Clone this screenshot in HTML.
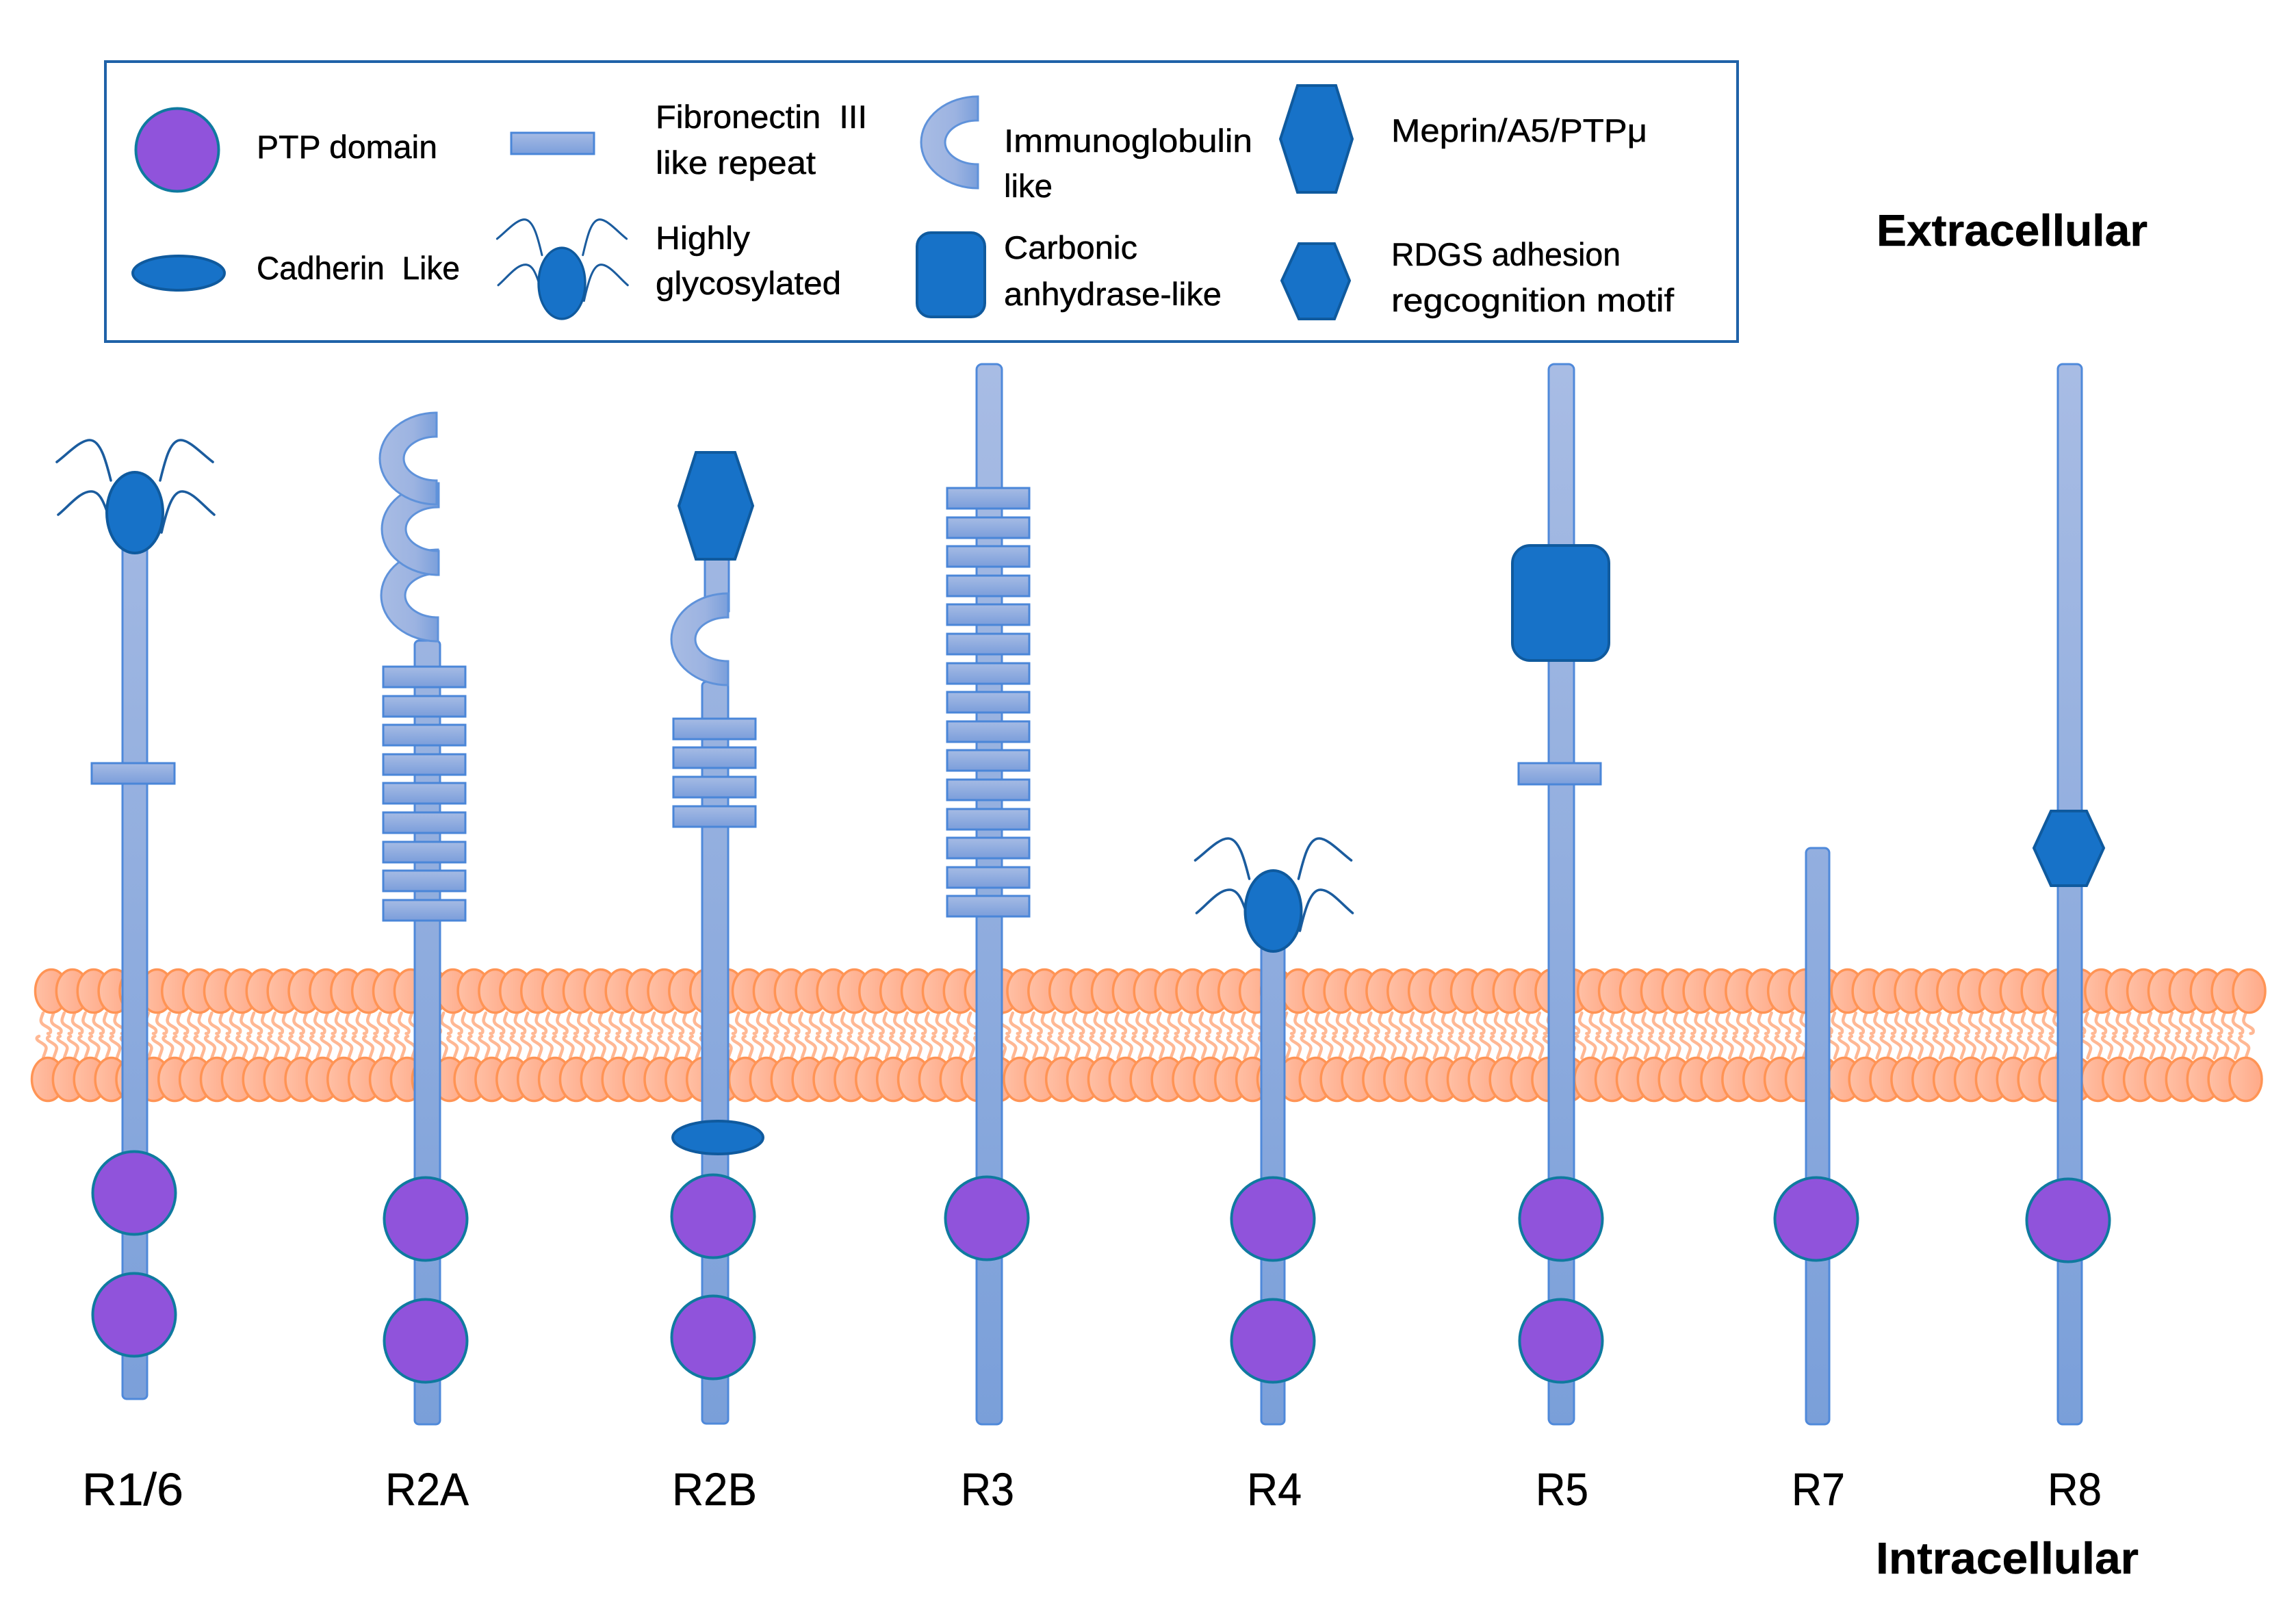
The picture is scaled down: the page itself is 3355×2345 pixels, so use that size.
<!DOCTYPE html>
<html>
<head>
<meta charset="utf-8">
<title>Receptor PTP diagram</title>
<style>
html,body{margin:0;padding:0;background:#fff;}
svg{display:block;}
text{font-family:"Liberation Sans",sans-serif;fill:#000;stroke:#000;stroke-width:.5px;}
.l{font-size:47px;}
.r{font-size:67px;}
.b{font-size:65px;font-weight:bold;}
.st{fill:url(#stem);stroke:#4f89da;stroke-width:3;}
.fn{fill:url(#fib);stroke:#4a86d8;stroke-width:3;}
.ig{fill:url(#igg);stroke:#5f92da;stroke-width:3;}
.bl{fill:#1772c8;stroke:#0f5a9e;stroke-width:4;}
.pt{fill:#9053db;stroke:#0f7a9f;stroke-width:4;}
.ha{fill:none;stroke:#1b5c9e;stroke-width:3.6;stroke-linecap:round;}
.he{fill:url(#head);stroke:#ff9455;stroke-width:3.5;}
.ta{fill:none;stroke:#ffb894;stroke-width:4.5;stroke-linecap:round;}
</style>
</head>
<body>
<svg xmlns="http://www.w3.org/2000/svg" width="3355" height="2345" viewBox="0 0 3355 2345">
<defs>
<linearGradient id="stem" gradientUnits="userSpaceOnUse" x1="0" y1="530" x2="0" y2="2085"><stop offset="0" stop-color="#a8bce4"/><stop offset="1" stop-color="#7a9fd9"/></linearGradient>
<linearGradient id="fib" x1="0" y1="0" x2="0" y2="1"><stop offset="0" stop-color="#a6bbe4"/><stop offset="1" stop-color="#7b9edb"/></linearGradient>
<linearGradient id="igg" x1="0" y1="0" x2="1" y2="0"><stop offset="0" stop-color="#a8bce4"/><stop offset="0.6" stop-color="#9cb3e1"/><stop offset="1" stop-color="#7a9fdb"/></linearGradient>
<linearGradient id="head" x1="0" y1="0" x2="1" y2="0"><stop offset="0" stop-color="#ffc0a5"/><stop offset="1" stop-color="#ffa987"/></linearGradient>

<ellipse id="h1" class="he" cx="0" cy="0" rx="23.5" ry="31.5"/>
<g id="h5"><use href="#h1"/><use href="#h1" x="30.88"/><use href="#h1" x="61.76"/><use href="#h1" x="92.64"/><use href="#h1" x="123.52"/></g>
<g id="h25"><use href="#h5"/><use href="#h5" x="154.4"/><use href="#h5" x="308.8"/><use href="#h5" x="463.2"/><use href="#h5" x="617.6"/></g>
<g id="h105"><use href="#h25"/><use href="#h25" x="772"/><use href="#h25" x="1544"/><use href="#h25" x="2316"/><use href="#h5" x="3088"/></g>

<path id="tu" class="ta" d="M0 0C-3 8-5 12-1 16C3 20 12 22 11 27C11 29 9 30 7 30"/>
<path id="tl" class="ta" d="M2 0C-3 2-2 5 3 8C10 12 14 15 12 20C11 24 9 28 8 32"/>
<g id="tu5"><use href="#tu"/><use href="#tu" x="15.4"/><use href="#tu" x="30.8"/><use href="#tu" x="46.2"/><use href="#tu" x="61.6"/></g>
<g id="tu25"><use href="#tu5"/><use href="#tu5" x="77"/><use href="#tu5" x="154"/><use href="#tu5" x="231"/><use href="#tu5" x="308"/></g>
<g id="tl5"><use href="#tl"/><use href="#tl" x="15.4"/><use href="#tl" x="30.8"/><use href="#tl" x="46.2"/><use href="#tl" x="61.6"/></g>
<g id="tl25"><use href="#tl5"/><use href="#tl5" x="77"/><use href="#tl5" x="154"/><use href="#tl5" x="231"/><use href="#tl5" x="308"/></g>

<g id="gly">
<path class="ha" d="M-114 -74C-98 -86-80 -106-66 -106C-50 -106-42 -75-35 -47"/>
<path class="ha" d="M-112 3C-96 -10-80 -31-64 -31C-52 -31-46 -18-38 6"/>
<path class="ha" d="M114 -74C98 -86 80 -106 67 -106C51 -106 44 -75 37 -47"/>
<path class="ha" d="M116 3C100 -10 84 -31 69 -31C55 -31 47 -5 39 29"/>
<ellipse class="bl" cx="0" cy="0" rx="41" ry="59"/>
</g>

<path id="ig" class="ig" d="M0 -67A83 67 0 0 0 0 67L0 32A48 32 0 0 1 0 -32Z"/>
<rect id="frA" class="fn" x="0" y="0" width="120" height="30"/>
<ellipse id="ptp" class="pt" cx="0" cy="0" rx="60.5" ry="60.5"/>
</defs>

<rect width="3355" height="2345" fill="#fff"/>

<!-- Legend -->
<rect x="154" y="90" width="2385" height="409" fill="#fff" stroke="#1f62a8" stroke-width="4"/>
<use href="#ptp" x="259" y="219"/>
<ellipse class="bl" cx="261" cy="399" rx="67" ry="25"/>
<rect class="fn" x="747" y="194" width="121" height="31"/>
<use href="#gly" transform="translate(821 414) scale(.83 .88)"/>
<use href="#ig" transform="translate(1429 208)"/>
<rect class="bl" x="1340" y="340" width="99" height="123" rx="20"/>
<polygon class="bl" points="1896,125 1952,125 1976,203 1952,281 1896,281 1871,203"/>
<polygon class="bl" points="1898,356 1950,356 1972,410 1950,466 1898,466 1873,410"/>

<text class="l" x="375" y="231" textLength="264" lengthAdjust="spacingAndGlyphs">PTP domain</text>
<text class="l" x="375" y="408" textLength="297" lengthAdjust="spacingAndGlyphs" xml:space="preserve">Cadherin  Like</text>
<text class="l" x="958" y="187" textLength="309" lengthAdjust="spacingAndGlyphs" xml:space="preserve">Fibronectin  III</text>
<text class="l" x="958" y="254" textLength="234" lengthAdjust="spacingAndGlyphs">like repeat</text>
<text class="l" x="958" y="364" textLength="138" lengthAdjust="spacingAndGlyphs">Highly</text>
<text class="l" x="958" y="430" textLength="271" lengthAdjust="spacingAndGlyphs">glycosylated</text>
<text class="l" x="1467" y="222" textLength="363" lengthAdjust="spacingAndGlyphs">Immunoglobulin</text>
<text class="l" x="1467" y="288" textLength="71" lengthAdjust="spacingAndGlyphs">like</text>
<text class="l" x="1467" y="378" textLength="195" lengthAdjust="spacingAndGlyphs">Carbonic</text>
<text class="l" x="1467" y="446" textLength="318" lengthAdjust="spacingAndGlyphs">anhydrase-like</text>
<text class="l" x="2033" y="207" textLength="374" lengthAdjust="spacingAndGlyphs">Meprin/A5/PTPμ</text>
<text class="l" x="2033" y="388" textLength="335" lengthAdjust="spacingAndGlyphs">RDGS adhesion</text>
<text class="l" x="2033" y="455" textLength="413" lengthAdjust="spacingAndGlyphs">regcognition motif</text>

<!-- Membrane -->
<g transform="translate(63 1480)">
<use href="#tu25"/><use href="#tu25" x="385"/><use href="#tu25" x="770"/><use href="#tu25" x="1155"/><use href="#tu25" x="1540"/><use href="#tu25" x="1925"/><use href="#tu25" x="2310"/><use href="#tu25" x="2695"/><use href="#tu5" x="3080"/><use href="#tu5" x="3157"/>
</g>
<g transform="translate(55 1514)">
<use href="#tl25"/><use href="#tl25" x="385"/><use href="#tl25" x="770"/><use href="#tl25" x="1155"/><use href="#tl25" x="1540"/><use href="#tl25" x="1925"/><use href="#tl25" x="2310"/><use href="#tl25" x="2695"/><use href="#tl5" x="3080"/><use href="#tl5" x="3157"/>
</g>
<use href="#h105" x="75" y="1448"/>
<use href="#h105" x="70" y="1577"/>

<!-- R1/6 -->
<rect class="st" x="179" y="790" width="36" height="1254" rx="6"/>
<rect class="fn" x="134" y="1115" width="121" height="30"/>
<use href="#gly" x="197" y="749"/>
<use href="#ptp" x="196" y="1743"/>
<use href="#ptp" x="196" y="1921"/>

<!-- R2A -->
<rect class="st" x="606" y="936" width="37" height="1145" rx="6"/>
<use href="#ig" transform="translate(640 870)"/>
<use href="#ig" transform="translate(641 773)"/>
<use href="#ig" transform="translate(638 670)"/>
<use href="#frA" x="560" y="974"/>
<use href="#frA" x="560" y="1017"/>
<use href="#frA" x="560" y="1059"/>
<use href="#frA" x="560" y="1102"/>
<use href="#frA" x="560" y="1144"/>
<use href="#frA" x="560" y="1187"/>
<use href="#frA" x="560" y="1230"/>
<use href="#frA" x="560" y="1272"/>
<use href="#frA" x="560" y="1315"/>
<use href="#ptp" x="622" y="1781"/>
<use href="#ptp" x="622" y="1959"/>

<!-- R2B -->
<rect class="st" x="1030" y="800" width="35" height="93"/>
<rect class="st" x="1026" y="996" width="38" height="1084" rx="6"/>
<use href="#ig" transform="translate(1064 934)"/>
<polygon class="bl" points="1017,661 1074,661 1100,739 1074,817 1017,817 992,739"/>
<use href="#frA" x="984" y="1050"/>
<use href="#frA" x="984" y="1092"/>
<use href="#frA" x="984" y="1135"/>
<use href="#frA" x="984" y="1178"/>
<ellipse class="bl" cx="1049" cy="1662" rx="66" ry="24"/>
<use href="#ptp" x="1042" y="1777"/>
<use href="#ptp" x="1042" y="1954"/>

<!-- R3 -->
<rect class="st" x="1427" y="532" width="37" height="1549" rx="8"/>
<use href="#frA" x="1384" y="713"/>
<use href="#frA" x="1384" y="756"/>
<use href="#frA" x="1384" y="798"/>
<use href="#frA" x="1384" y="841"/>
<use href="#frA" x="1384" y="883"/>
<use href="#frA" x="1384" y="926"/>
<use href="#frA" x="1384" y="969"/>
<use href="#frA" x="1384" y="1011"/>
<use href="#frA" x="1384" y="1054"/>
<use href="#frA" x="1384" y="1096"/>
<use href="#frA" x="1384" y="1139"/>
<use href="#frA" x="1384" y="1182"/>
<use href="#frA" x="1384" y="1224"/>
<use href="#frA" x="1384" y="1267"/>
<use href="#frA" x="1384" y="1309"/>
<use href="#ptp" x="1442" y="1780"/>

<!-- R4 -->
<rect class="st" x="1843" y="1370" width="34" height="711" rx="6"/>
<use href="#gly" x="1860.5" y="1331"/>
<use href="#ptp" x="1860" y="1781"/>
<use href="#ptp" x="1860" y="1959"/>

<!-- R5 -->
<rect class="st" x="2263" y="532" width="37" height="1549" rx="8"/>
<rect class="bl" x="2210" y="797" width="141" height="168" rx="26"/>
<rect class="fn" x="2219" y="1115" width="120" height="31"/>
<use href="#ptp" x="2281" y="1781"/>
<use href="#ptp" x="2281" y="1959"/>

<!-- R7 -->
<rect class="st" x="2639" y="1239" width="34" height="842" rx="7"/>
<use href="#ptp" x="2654" y="1781"/>

<!-- R8 -->
<rect class="st" x="3007" y="532" width="35" height="1549" rx="7"/>
<polygon class="bl" points="2997,1185 3049,1185 3074,1239 3049,1294 2997,1294 2972,1239"/>
<use href="#ptp" x="3022" y="1783"/>

<!-- Labels -->
<text class="r" x="120" y="2199" textLength="148" lengthAdjust="spacingAndGlyphs">R1/6</text>
<text class="r" x="563" y="2199" textLength="122" lengthAdjust="spacingAndGlyphs">R2A</text>
<text class="r" x="982" y="2199" textLength="124" lengthAdjust="spacingAndGlyphs">R2B</text>
<text class="r" x="1404" y="2199" textLength="78" lengthAdjust="spacingAndGlyphs">R3</text>
<text class="r" x="1822" y="2199" textLength="80" lengthAdjust="spacingAndGlyphs">R4</text>
<text class="r" x="2244" y="2199" textLength="77" lengthAdjust="spacingAndGlyphs">R5</text>
<text class="r" x="2618" y="2199" textLength="78" lengthAdjust="spacingAndGlyphs">R7</text>
<text class="r" x="2992" y="2199" textLength="79" lengthAdjust="spacingAndGlyphs">R8</text>
<text class="b" x="2742" y="359" textLength="396" lengthAdjust="spacingAndGlyphs">Extracellular</text>
<text class="b" x="2741" y="2299" textLength="384" lengthAdjust="spacingAndGlyphs">Intracellular</text>
</svg>
</body>
</html>
